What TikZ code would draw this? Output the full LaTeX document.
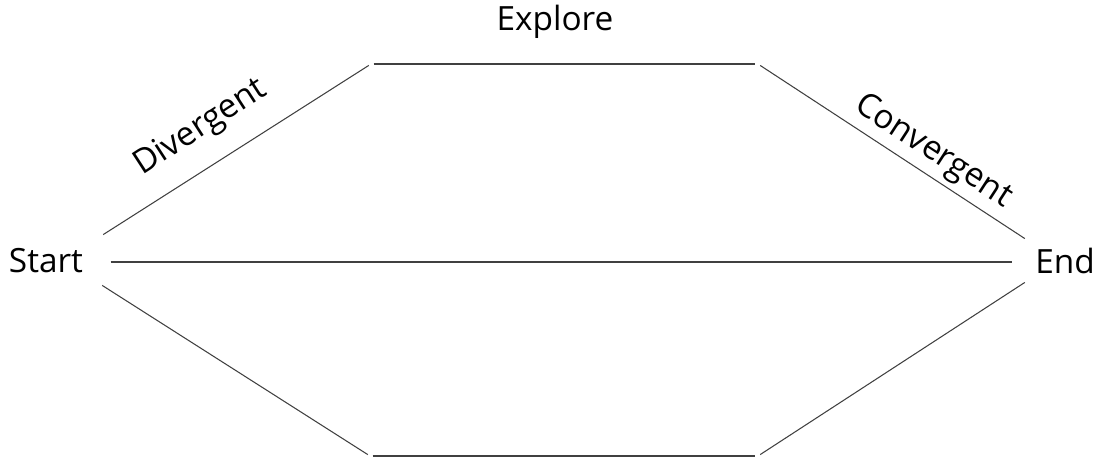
\documentclass[tikz,border=0pt]{standalone}
\usepackage{fontspec}
\setmainfont{Open Sans}
\usetikzlibrary{positioning, calc}

\begin{document}
\begin{tikzpicture}[x=0.02cm, y=-0.02cm]

\tikzset{
  label/.style={font=\fontsize{19}{22}\selectfont, inner sep=0pt},
  edge/.style={draw=black!75, line width=0.6pt, shorten <=1.5pt, shorten >=1.5pt}
}

\useasboundingbox (0,0) rectangle (1102,457);

%labels
\node[label] (start) at (46,261) {Start};
\node[label] (end) at (1065,261) {End};
\node[label] (explore) at (555,22) {Explore};
\node[label, rotate=33] (div) at (201,128) {Divergent};
\node[label, rotate=-33] (conv) at (933,152) {Convergent};

%corners
\coordinate (sl) at (101,236);
\coordinate (sm) at (108,262);
\coordinate (sb) at (100,284);
\coordinate (el) at (1027,240);
\coordinate (em) at (1015,262);
\coordinate (eb) at (1027,281);
\coordinate (tl) at (371,64);
\coordinate (tr) at (758,64);
\coordinate (bl) at (370,456);
\coordinate (br) at (758,456);

%paths
\draw[edge] (sl) -- (tl);
\draw[edge] (tl) -- (tr);
\draw[edge] (tr) -- (el);
\draw[edge] (sm) -- (em);
\draw[edge] (sb) -- (bl);
\draw[edge] (bl) -- (br);
\draw[edge] (br) -- (eb);
\end{tikzpicture}
\end{document}
